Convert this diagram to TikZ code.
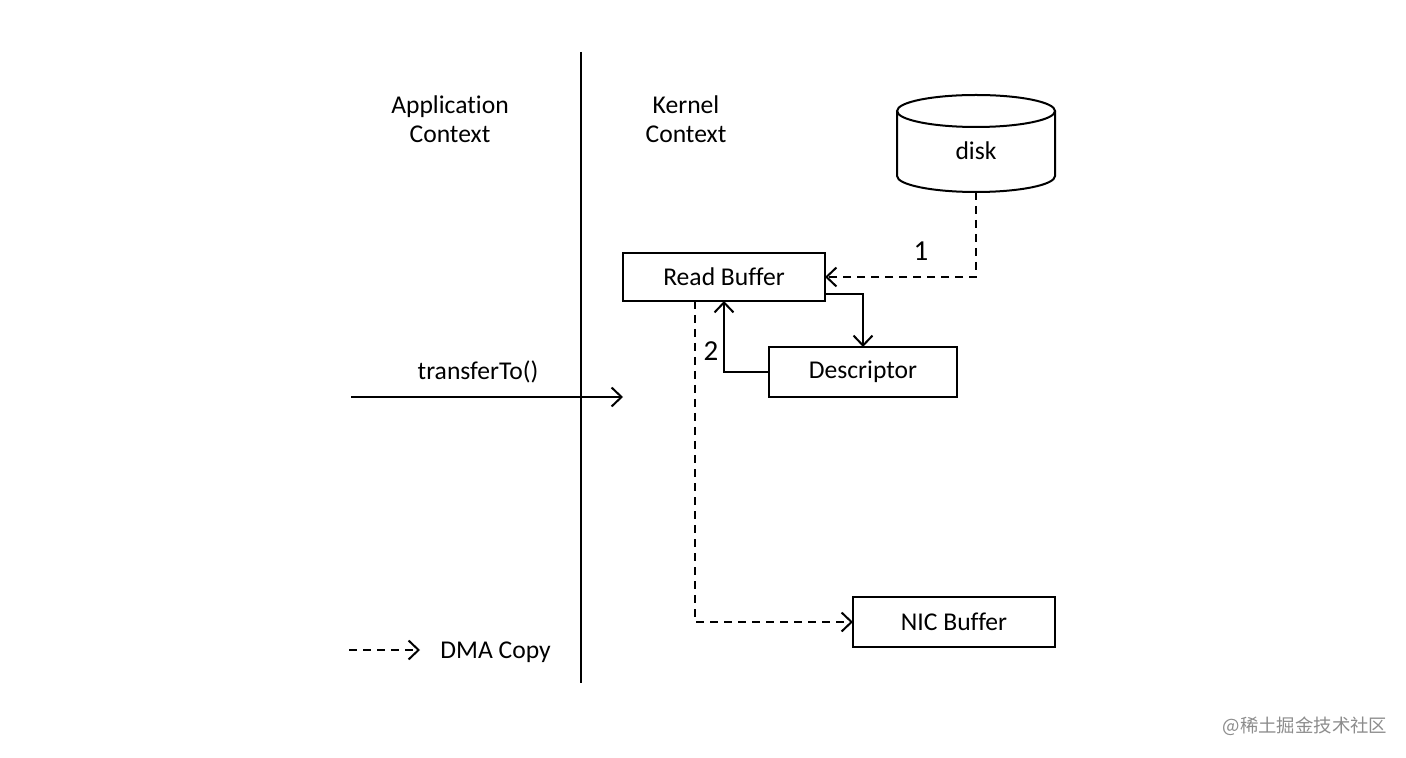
\documentclass[tikz,border=0pt]{standalone}
\usepackage{fontspec}
\setmainfont{Carlito}[Ligatures=NoCommon]
\newfontfamily\cjk{Noto Sans CJK SC}
\usetikzlibrary{arrows.meta}
\begin{document}
\begin{tikzpicture}[x=0.5pt,y=-0.5pt,
  txt/.style={font=\fontsize{12.8}{14.5}\selectfont},
  lbl/.style={txt, inner sep=0pt, align=center},
  num/.style={font=\fontsize{14.5}{16}\selectfont, inner sep=0pt},
  box/.style={draw, line width=1pt, txt, inner sep=0pt, outer sep=0pt},
  conn/.style={line width=1pt, -{Straight Barb[length=5pt,width=9.5pt,line width=1pt]}},
  dma/.style={conn, dash pattern=on 4pt off 3pt},
  sep/.style={line width=1pt}]
\useasboundingbox (0,0) rectangle (1406,758);
% separator
\coordinate (v1) at (581,52);
\coordinate (v2) at (581,683);
\draw[sep] (v1) -- (v2);
% headings
\node[lbl] (app) at (450,119) {Application\\Context};
\node[lbl] (ker) at (686,119) {Kernel\\Context};
% disk
\draw[line width=1pt] (976,111) ellipse [x radius=79, y radius=16];
\draw[line width=1pt] (897,111) -- (897,176) arc [start angle=180, end angle=0, x radius=79, y radius=16] -- (1055,111);
\node[lbl] (disk) at (976,151) {disk};
\coordinate (diskb) at (976,192);
% boxes
\node[box, minimum width=101pt, minimum height=24pt] (rb) at (724,277) {Read Buffer};
\node[box, minimum width=94pt, minimum height=25pt] (desc) at (863,372) {Descriptor};
\node[box, minimum width=101pt, minimum height=25pt] (nic) at (954,622) {NIC Buffer};
% connectors
\draw[dma] (diskb) |- (rb.east);
\node[num] (n1) at (921,251) {1};
\draw[conn] ([yshift=-8.5pt]rb.east) -| (desc.north);
\draw[conn] (desc.west) -| (rb.south);
\node[num] (n2) at (711,351) {2};
\draw[dma] ([xshift=-14.5pt]rb.south) |- (nic.west);
% transferTo
\coordinate (ts) at (351,397);
\coordinate (te) at (623,397);
\draw[conn] (ts) -- (te);
\node[lbl] (tt) at (478,372) {transferTo()};
% legend
\coordinate (l1) at (349,650);
\coordinate (l2) at (420,650);
\draw[dma] (l1) -- (l2);
\node[lbl, anchor=west] (dmal) at (440,652) {DMA Copy};
% watermark
\node[inner sep=0pt, text=black!45, font=\cjk\fontsize{9.2}{11}\selectfont] (wm) at (1305,726) {@稀土掘金技术社区};
\end{tikzpicture}
\end{document}
